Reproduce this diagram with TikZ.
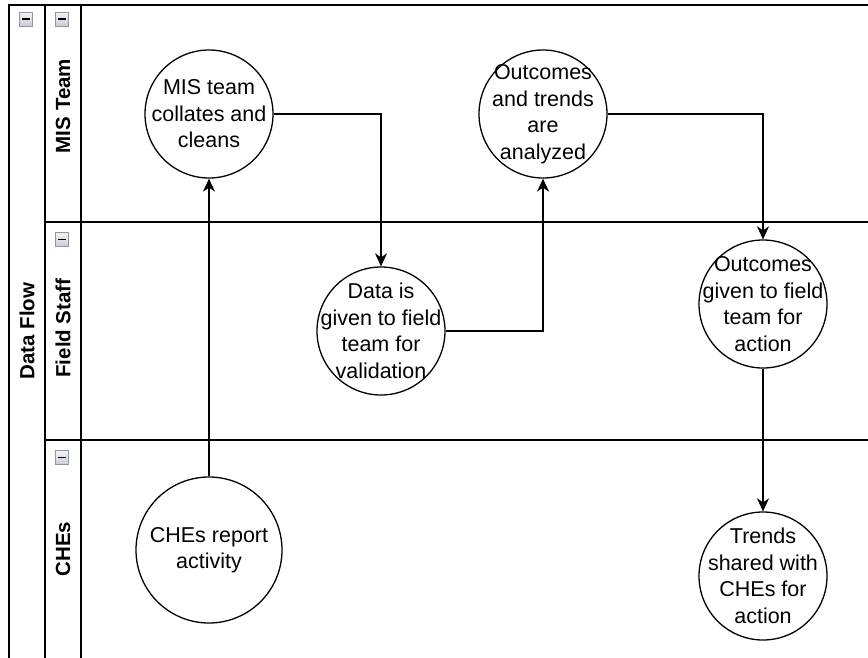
\documentclass[tikz,border=0pt]{standalone}
\usepackage{fontspec}
\setmainfont{Liberation Sans}
\usetikzlibrary{arrows.meta}
\definecolor{btnborder}{HTML}{8E97A4}
\definecolor{btntop}{HTML}{F2F3F5}
\definecolor{btnbottom}{HTML}{C9CDD4}

\begin{document}
\begin{tikzpicture}[
        x=1pt, y=-1pt,
        pool/.style={line width=1.3pt, line cap=rect},
        hdr/.style={rotate=90, font=\fontsize{20.5}{24}\selectfont\bfseries, inner sep=0pt},
        proc/.style={circle, draw, line width=1.3pt, minimum size=128pt, inner sep=0pt},
        proctext/.style={align=center, inner sep=0pt, font=\fontsize{21.5}{26.5}\selectfont},
        collapse/.style={rectangle, draw=btnborder, line width=0.8pt, top color=btntop, bottom color=btnbottom, minimum size=13.5pt, inner sep=0pt,
            path picture={\draw[line width=1.8pt, black] ([xshift=-4pt]path picture bounding box.center) -- ([xshift=4pt]path picture bounding box.center);}},
        arrow/.style={-{Stealth[length=13pt, width=12pt, inset=4pt]}, line width=1.3pt}
    ]

    \useasboundingbox (0,0) rectangle (868,657);

    \draw[pool] (9,665) -- (9,5) -- (875,5);
    \draw[pool] (45,5) -- (45,665);
    \draw[pool] (81,5) -- (81,665);
    \draw[pool] (45,222) -- (875,222);
    \draw[pool] (45,440) -- (875,440);

    \node[collapse] (pool-btn) at (25.7,19.3) {};
    \node[collapse] (mis-btn) at (61.7,19.3) {};
    \node[collapse] (field-btn) at (61.7,239.5) {};
    \node[collapse] (che-btn) at (61.7,457.5) {};

    \node[hdr] (pool-title) at (27,331) {Data Flow};
    \node[hdr] (mis-title) at (63,106) {MIS Team};
    \node[hdr] (field-title) at (63,328) {Field Staff};
    \node[hdr] (che-title) at (63,549) {CHEs};

    \node[proc] (collate) at (209,114) {};
    \node[proctext] (collate-txt) at (collate) {MIS team\\collates and\\cleans};

    \node[proc] (analyze) at (543,114) {};
    \node[proctext] (analyze-txt) at (analyze) {Outcomes\\and trends\\are\\analyzed};

    \node[proc] (validate) at (381,331) {};
    \node[proctext] (validate-txt) at (validate) {Data is\\given to field\\team for\\validation};

    \node[proc] (action) at (763,304) {};
    \node[proctext] (action-txt) at (action) {Outcomes\\given to field\\team for\\action};

    \node[proc] (share) at (763,576) {};
    \node[proctext] (share-txt) at (share) {Trends\\shared with\\CHEs for\\action};

    \node[proc, minimum size=146pt] (report) at (209,550) {};
    \node[proctext] (report-txt) at (report) {CHEs report\\activity};

    \draw[arrow] (report.north) -- (collate.south);
    \draw[arrow] (collate.east) -| (validate.north);
    \draw[arrow] (validate.east) -| (analyze.south);
    \draw[arrow] (analyze.east) -| (action.north);
    \draw[arrow] (action.south) -- (share.north);

    \end{tikzpicture}
\end{document}
